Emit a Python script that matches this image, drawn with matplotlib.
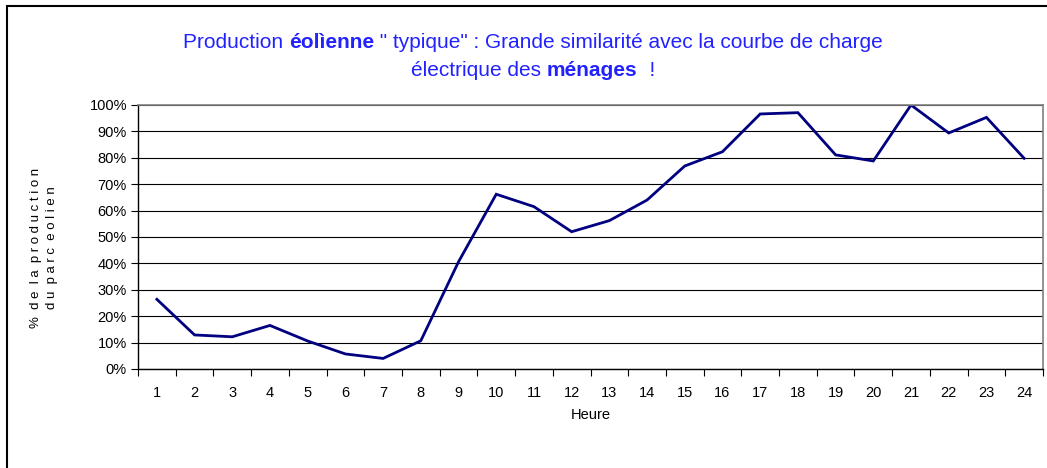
import matplotlib
matplotlib.use("Agg")
import matplotlib.pyplot as plt
from matplotlib.patches import Rectangle
from matplotlib.ticker import FixedLocator, PercentFormatter

hours = list(range(1, 25))
production = [26.4, 12.9, 12.2, 16.5, 10.6, 5.7, 4.0, 10.7, 40.6, 66.2, 61.5, 52.0,
              56.2, 64.0, 76.9, 82.3, 96.6, 97.1, 81.1, 78.8, 100.0, 89.4, 95.3, 79.8]
y_ticks = list(range(0, 101, 10))

title_line1 = [("Production ", "normal"), ("éolìenne", "bold"),
               (" \" typique\" : Grande similarité avec la courbe de charge", "normal")]
title_line2 = [("électrique des ", "normal"), ("ménages", "bold"), ("  !", "normal")]

plt.rcParams["font.family"] = ["Liberation Sans Narrow", "Liberation Sans", "DejaVu Sans"]

fig = plt.figure(figsize=(10.47, 4.68), dpi=100)
W, H = 1047, 468
ax = fig.add_axes([138 / W, (H - 369) / H, (1043 - 138) / W, (369 - 105) / H])

# outer frame (runs off the right/bottom edge as in the original)
fig.patches.append(Rectangle((7 / W, -0.1), 1.2, 1 - 6 / H + 0.1, transform=fig.transFigure,
                             fill=False, edgecolor="black", linewidth=1.5))

ax.plot(hours, production, color="#000080", linewidth=2.0, solid_joinstyle="miter")

ax.set_xlim(0.5, 24.5)
ax.set_ylim(0, 100)
ax.yaxis.set_major_locator(FixedLocator(y_ticks))
ax.yaxis.set_major_formatter(PercentFormatter(decimals=0))
ax.grid(axis="y", color="black", linewidth=0.8)
ax.set_axisbelow(True)

ax.xaxis.set_major_locator(FixedLocator([h - 0.5 for h in hours] + [24.5]))
ax.xaxis.set_major_formatter(plt.NullFormatter())
ax.set_xticks(hours, [str(h) for h in hours], minor=True)
ax.tick_params(axis="x", which="major", direction="out", length=5, width=0.8, color="black")
ax.tick_params(axis="x", which="minor", length=0, pad=12, labelsize=10.5)
ax.tick_params(axis="y", direction="out", length=5, width=0.8, labelsize=10.5, pad=3)

for side in ["top", "right"]:
    ax.spines[side].set_color("#808080")
    ax.spines[side].set_linewidth(1.2)
for side in ["left", "bottom"]:
    ax.spines[side].set_color("black")
    ax.spines[side].set_linewidth(1.0)

ax.set_xlabel("Heure", fontsize=10.5, labelpad=6)
fig.text(44 / W, (H - 248) / H, "%  d e  l a  p r o d u c t i o n\nd u  p a r c  e o l i e n",
         rotation=90, ha="center", va="center", fontsize=9.5, linespacing=1.35,
         multialignment="center")


def draw_mixed(pieces, cx, cy, size=15, color="#2222ff"):
    renderer = fig.canvas.get_renderer()
    texts, widths = [], []
    for s, w in pieces:
        t = fig.text(0, cy, s, fontsize=size, fontweight=w, color=color, va="center", ha="left")
        texts.append(t)
        widths.append(t.get_window_extent(renderer).width / fig.bbox.width)
    x = cx - sum(widths) / 2
    for t, wd in zip(texts, widths):
        t.set_x(x)
        x += wd


draw_mixed(title_line1, 533 / W, (H - 42) / H)
draw_mixed(title_line2, 533 / W, (H - 71) / H)

fig.savefig("out.png", dpi=100)
